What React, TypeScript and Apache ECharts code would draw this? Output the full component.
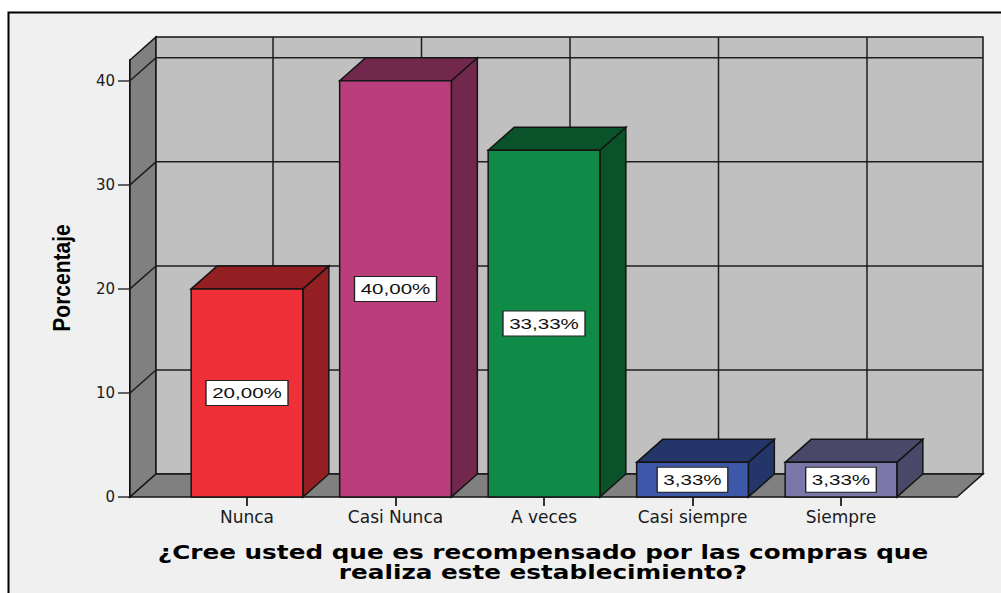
import React, { useEffect, useRef } from 'react';
import * as echarts from 'echarts';

const categories = ['Nunca', 'Casi Nunca', 'A veces', 'Casi siempre', 'Siempre'];
const percentages = [20.0, 40.0, 33.33, 3.33, 3.33];
const yTicks = [0, 10, 20, 30, 40];
const frontColors = ['#EF3038', '#BA3E7C', '#0F8B47', '#3D58A8', '#7B78A9'];
const darkColors = ['#931F23', '#72284D', '#0A532A', '#24356A', '#4A4868'];
const yAxisTitle = 'Porcentaje';
const xAxisTitle = '¿Cree usted que es recompensado por las compras que\nrealiza este establecimiento?';

const Y_MAX = 42;
const DX = 26;
const DY = 23;
const EXT_L = 42.75;
const EXT_R = 41.75;
const EDGE = '#141414';

function fmt(v: number) {
  return v.toFixed(2).replace('.', ',') + '%';
}

export default function App() {
  const ref = useRef<HTMLDivElement>(null);
  useEffect(() => {
    if (!ref.current) return;
    const chart = echarts.init(ref.current, undefined, { renderer: 'svg' });
    const option: any = {
      animation: false,
      grid: { left: 172.75, right: 85.75, top: 60, bottom: 96 },
      xAxis: {
        type: 'category',
        data: categories,
        axisLine: { show: false },
        axisTick: { show: true, alignWithLabel: true, length: 9, lineStyle: { color: '#333', width: 2 } },
        axisLabel: { color: '#1a1a1a', fontFamily: '"DejaVu Sans", sans-serif', fontSize: 17, margin: 11 },
        splitLine: { show: false },
      },
      yAxis: {
        type: 'value',
        min: 0,
        max: Y_MAX,
        interval: 10,
        offset: 42.75,
        axisLine: { show: true, lineStyle: { color: '#000', width: 2 } },
        axisTick: { show: true, length: 12, customValues: yTicks, lineStyle: { color: '#333', width: 1.5 } },
        axisLabel: { color: '#1a1a1a', fontFamily: '"DejaVu Sans", sans-serif', fontSize: 15, margin: 15, customValues: yTicks },
        splitLine: { show: false },
      },
      graphic: [
        {
          type: 'rect', z: -10, silent: true,
          shape: { x: 8.5, y: 12.5, width: 1000, height: 600 },
          style: { fill: '#F0F0F0', stroke: '#000', lineWidth: 2 },
        },
        {
          type: 'text', x: 62, y: 278, rotation: Math.PI / 2, scaleY: 1.15,
          style: { text: yAxisTitle, font: 'bold 21px "Liberation Sans", Arial, sans-serif', fill: '#000', align: 'center', verticalAlign: 'middle' },
        },
        {
          type: 'text', x: 543, y: 562, scaleX: 1.235,
          style: { text: xAxisTitle, font: 'bold 20px "DejaVu Sans", sans-serif', lineHeight: 20, fill: '#000', align: 'center', verticalAlign: 'middle' },
        },
      ],
      series: [
        {
          type: 'custom',
          z: 1,
          clip: false,
          silent: true,
          data: [[0, 0]],
          renderItem: (params: any, api: any) => {
            const cs = params.coordSys;
            const y0 = api.coord([0, 0])[1];
            const yTop = api.coord([0, Y_MAX])[1];
            const xl = cs.x - EXT_L;
            const xr = cs.x + cs.width + EXT_R;
            const children: any[] = [];
            children.push({
              type: 'polygon',
              shape: { points: [[xl, y0], [xl, yTop], [xl + DX, yTop - DY], [xl + DX, y0 - DY]] },
              style: { fill: '#808080', stroke: EDGE, lineWidth: 1.5 },
            });
            children.push({
              type: 'rect',
              shape: { x: xl + DX, y: yTop - DY, width: xr - xl, height: y0 - yTop },
              style: { fill: '#C0C0C0', stroke: EDGE, lineWidth: 1.5 },
            });
            children.push({
              type: 'polygon',
              shape: { points: [[xl, y0], [xl + DX, y0 - DY], [xr + DX, y0 - DY], [xr, y0]] },
              style: { fill: '#808080', stroke: EDGE, lineWidth: 1.5 },
            });
            yTicks.forEach((t) => {
              if (t === 0) return;
              const yy = api.coord([0, t])[1];
              children.push({
                type: 'polyline',
                shape: { points: [[xl, yy], [xl + DX, yy - DY], [xr + DX, yy - DY]] },
                style: { fill: null, stroke: '#1e1e1e', lineWidth: 1.5 },
              });
            });
            categories.forEach((_c, i) => {
              const cx = api.coord([i, 0])[0];
              children.push({
                type: 'line',
                shape: { x1: cx + DX, y1: yTop - DY, x2: cx + DX, y2: y0 - DY },
                style: { stroke: '#1e1e1e', lineWidth: 1.5 },
              });
            });
            return { type: 'group', children };
          },
        },
        {
          type: 'custom',
          z: 3,
          clip: false,
          encode: { x: 0, y: 1 },
          data: percentages.map((v, i) => [i, v]),
          renderItem: (params: any, api: any) => {
            const i = api.value(0);
            const v = api.value(1);
            const p = api.coord([i, v]);
            const cx = p[0];
            const yv = p[1];
            const y0 = api.coord([i, 0])[1];
            const band = api.size([1, 0])[0];
            const hw = band * 0.376;
            const front = frontColors[params.dataIndex];
            const dark = darkColors[params.dataIndex];
            return {
              type: 'group',
              children: [
                {
                  type: 'polygon',
                  shape: { points: [[cx + hw, yv], [cx + hw + DX, yv - DY], [cx + hw + DX, y0 - DY], [cx + hw, y0]] },
                  style: { fill: dark, stroke: EDGE, lineWidth: 1.5 },
                },
                {
                  type: 'polygon',
                  shape: { points: [[cx - hw, yv], [cx - hw + DX, yv - DY], [cx + hw + DX, yv - DY], [cx + hw, yv]] },
                  style: { fill: dark, stroke: EDGE, lineWidth: 1.5 },
                },
                {
                  type: 'rect',
                  shape: { x: cx - hw, y: yv, width: 2 * hw, height: y0 - yv },
                  style: { fill: front, stroke: EDGE, lineWidth: 1.5 },
                },
                {
                  type: 'text',
                  x: cx,
                  y: (yv + y0) / 2,
                  scaleX: 1.37,
                  style: {
                    text: fmt(v),
                    font: '15px "Liberation Sans", Arial, sans-serif',
                    fill: '#111',
                    align: 'center',
                    verticalAlign: 'middle',
                    backgroundColor: '#fff',
                    borderColor: '#222',
                    borderWidth: 1,
                    padding: [5, 4, 4, 4],
                  },
                },
              ],
            };
          },
        },
      ],
    };
    chart.setOption(option);
    return () => chart.dispose();
  }, []);
  return (
    <div
      ref={ref}
      style={{ position: 'absolute', left: 0, top: 0, width: 1001, height: 593, background: '#fff' }}
    />
  );
}
